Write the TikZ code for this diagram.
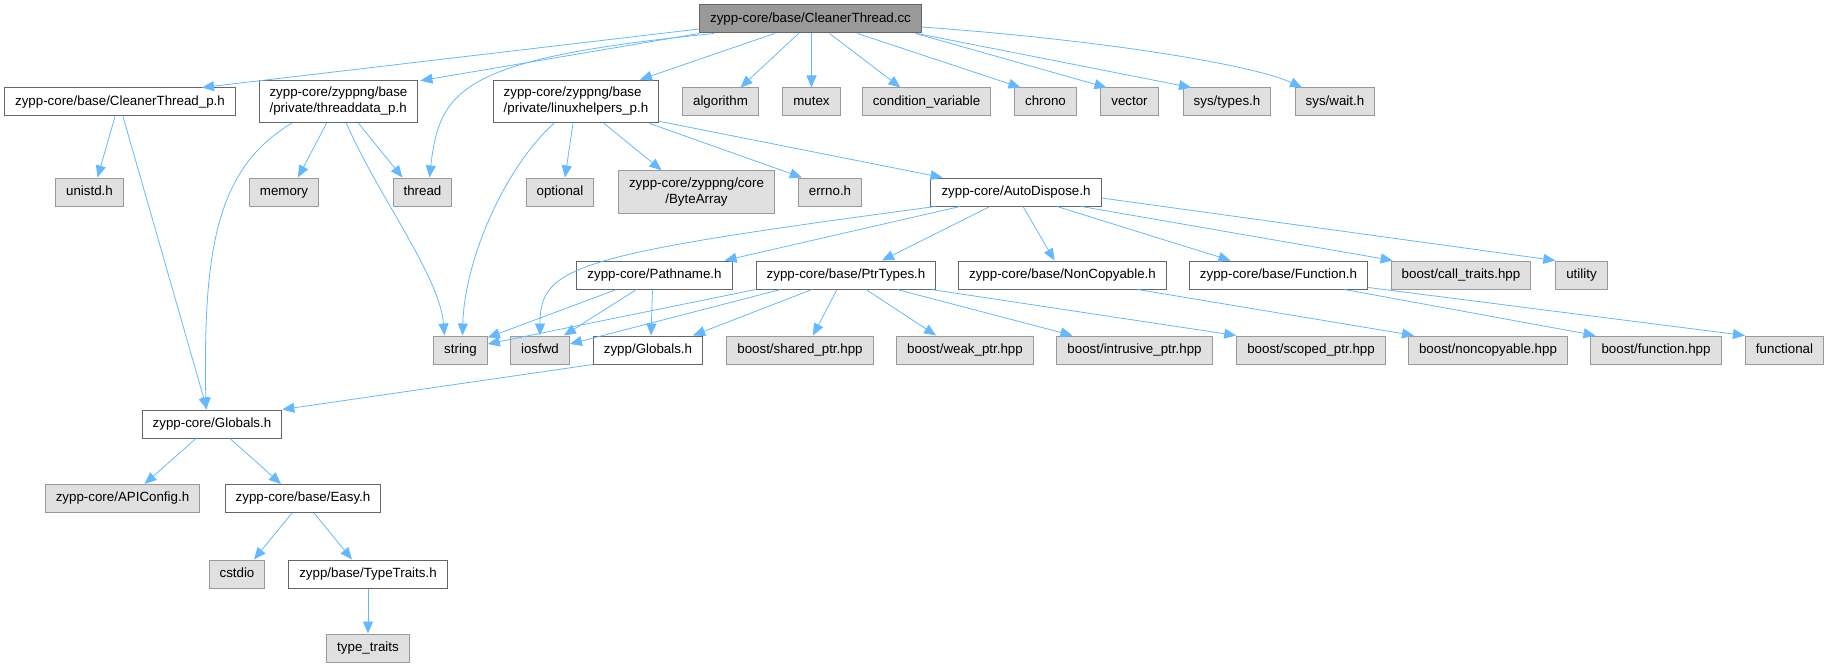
\documentclass[tikz,border=0pt]{standalone}
\usepackage{fontspec}
\setmainfont{Liberation Sans}
\usetikzlibrary{arrows.meta,calc}
\definecolor{edgeblue}{HTML}{63B8FF}
\definecolor{boxline}{HTML}{666666}
\definecolor{sysline}{HTML}{999999}
\definecolor{sysfill}{HTML}{E0E0E0}
\definecolor{rootfill}{HTML}{999999}
\tikzset{
  file/.style={draw=boxline, fill=white, line width=0.75pt, inner xsep=7.9pt, inner ysep=0pt,
    minimum height=21pt, text height=7.2pt, text depth=2.5pt, font=\fontsize{10}{12}\selectfont, text=black},
  sysfile/.style={file, draw=sysline, fill=sysfill},
  mainfile/.style={file, fill=rootfill},
  twoline/.style={minimum height=32pt, text height=, text depth=},
  dep/.style={draw=edgeblue, line width=0.6pt, -{Triangle[length=9pt,width=7.5pt]}},
}
\begin{document}
\begin{tikzpicture}[x=0.75pt,y=-0.75pt]
  \useasboundingbox (0,0) rectangle (1828,667);

  \node[mainfile] (cleanerthread) at (810.5,19) {zypp-core/base/CleanerThread.cc};

  \node[file] (cleanerp) at (120,102) {zypp-core/base/CleanerThread\_p.h};
  \node[file, twoline, align=left] (threaddata) at (338.5,101.5) {zypp-core/zyppng/base\\/private/threaddata\_p.h};
  \node[file, twoline, align=left] (linuxhelpers) at (576,101.5) {zypp-core/zyppng/base\\/private/linuxhelpers\_p.h};
  \node[sysfile] (algorithm) at (720.5,102) {algorithm};
  \node[sysfile] (mutex) at (811.5,102) {mutex};
  \node[sysfile] (condvar) at (926.5,102) {condition\_variable};
  \node[sysfile] (chrono) at (1045.5,102) {chrono};
  \node[sysfile] (vector) at (1129.5,102) {vector};
  \node[sysfile] (systypes) at (1227,102) {sys/types.h};
  \node[sysfile] (syswait) at (1335,102) {sys/wait.h};

  \node[sysfile] (unistd) at (89.5,192) {unistd.h};
  \node[sysfile] (memory) at (284,192) {memory};
  \node[sysfile] (thread) at (422.5,192) {thread};
  \node[sysfile] (optional) at (560,192) {optional};
  \node[sysfile, twoline, align=center] (bytearray) at (696.5,192) {zypp-core/zyppng/core\\/ByteArray};
  \node[sysfile] (errno) at (830,192) {errno.h};
  \node[file] (autodispose) at (1016,192) {zypp-core/AutoDispose.h};

  \node[file] (pathname) at (654.5,275) {zypp-core/Pathname.h};
  \node[file] (ptrtypes) at (846,275) {zypp-core/base/PtrTypes.h};
  \node[file] (noncopyable) at (1062.5,275) {zypp-core/base/NonCopyable.h};
  \node[file] (function) at (1278.5,275) {zypp-core/base/Function.h};
  \node[sysfile] (calltraits) at (1461,275) {boost/call\_traits.hpp};
  \node[sysfile] (utility) at (1581.5,275) {utility};

  \node[sysfile] (string) at (460.5,350) {string};
  \node[sysfile] (iosfwd) at (540,350) {iosfwd};
  \node[file] (zyppglobals) at (648,350) {zypp/Globals.h};
  \node[sysfile] (sharedptr) at (800,350) {boost/shared\_ptr.hpp};
  \node[sysfile] (weakptr) at (965,350) {boost/weak\_ptr.hpp};
  \node[sysfile] (intrusiveptr) at (1134.5,350) {boost/intrusive\_ptr.hpp};
  \node[sysfile] (scopedptr) at (1311,350) {boost/scoped\_ptr.hpp};
  \node[sysfile] (boostnoncopyable) at (1488,350) {boost/noncopyable.hpp};
  \node[sysfile] (boostfunction) at (1656,350) {boost/function.hpp};
  \node[sysfile] (functional) at (1784.5,350) {functional};

  \node[file] (globals) at (212,424) {zypp-core/Globals.h};
  \node[sysfile] (apiconfig) at (122.5,498.5) {zypp-core/APIConfig.h};
  \node[file] (easy) at (303,498.5) {zypp-core/base/Easy.h};
  \node[sysfile] (cstdio) at (237,574) {cstdio};
  \node[file] (typetraits) at (368,574) {zypp/base/TypeTraits.h};
  \node[sysfile] (stdtypetraits) at (368,648) {type\_traits};

  \draw[dep] ($(cleanerthread.west)+(0,10)$) -- ($(cleanerp.north)+(82,0)$);
  \draw[dep] (cleanerthread.south west) -- ($(threaddata.north east)+(2,1)$);
  \draw[dep] ($(cleanerthread.south west)+(15,0)$) .. controls +(-250,25) and +(10,-90) .. ($(thread.north)+(7,0)$);
  \draw[dep] ($(cleanerthread.south)+(-36,0)$) -- ($(linuxhelpers.north)+(64,0)$);
  \draw[dep] ($(cleanerthread.south)+(-12,0)$) -- ($(algorithm.north)+(20,0)$);
  \draw[dep] ($(cleanerthread.south)+(1,0)$) -- (mutex.north);
  \draw[dep] ($(cleanerthread.south)+(19,0)$) -- ($(condvar.north)+(-26,0)$);
  \draw[dep] ($(cleanerthread.south)+(47,0)$) -- ($(chrono.north)+(-25,0)$);
  \draw[dep] ($(cleanerthread.south)+(105,0)$) -- ($(vector.north)+(-23,0)$);
  \draw[dep] ($(cleanerthread.south east)+(-5,0)$) -- ($(systypes.north)+(-36,0)$);
  \draw[dep] ($(cleanerthread.east)+(0,8)$) .. controls +(180,13) and +(-50,-23) .. ($(syswait.north)+(-33,0)$);

  \draw[dep] ($(cleanerp.south)+(-5,0)$) -- ($(unistd.north)+(8,0)$);
  \draw[dep] ($(cleanerp.south)+(3,0)$) -- ($(globals.north)+(-5,0)$);

  \draw[dep] ($(threaddata.south)+(-12,0)$) -- ($(memory.north)+(14,0)$);
  \draw[dep] ($(threaddata.south)+(20,0)$) -- ($(thread.north)+(-20,0)$);
  \draw[dep] ($(threaddata.south)+(8,0)$) .. controls +(30,70) and +(-5,-60) .. ($(string.north)+(-16,0)$);
  \draw[dep] ($(threaddata.south)+(-47,0)$) .. controls +(-75,45) and +(-3,-160) .. ($(globals.north)+(-6,0)$);

  \draw[dep] ($(linuxhelpers.south)+(-22,0)$) .. controls +(-50,45) and +(2,-75) .. ($(string.north)+(2,0)$);
  \draw[dep] ($(linuxhelpers.south)+(-3,0)$) -- ($(optional.north)+(5,0)$);
  \draw[dep] ($(linuxhelpers.south)+(28,0)$) -- ($(bytearray.north)+(-35,0)$);
  \draw[dep] ($(linuxhelpers.south east)+(-10,0)$) -- ($(errno.north west)+(4,0)$);
  \draw[dep] ($(linuxhelpers.south east)+(0,-2)$) -- ($(autodispose.north west)+(12,0)$);

  \draw[dep] ($(autodispose.south)+(-56,0)$) -- ($(pathname.north east)+(-8,0)$);
  \draw[dep] ($(autodispose.south west)+(5,0)$) .. controls +(-360,48) and +(0,-70) .. (iosfwd.north);
  \draw[dep] ($(autodispose.south)+(-26,0)$) -- ($(ptrtypes.north)+(36,0)$);
  \draw[dep] ($(autodispose.south)+(7,0)$) -- ($(noncopyable.north)+(-8,0)$);
  \draw[dep] ($(autodispose.south)+(41,0)$) -- ($(function.north)+(-48,0)$);
  \draw[dep] ($(autodispose.south east)+(-20,0)$) -- ($(calltraits.north west)+(2,0)$);
  \draw[dep] ($(autodispose.east)+(0,6)$) -- (utility.north west);

  \draw[dep] (ptrtypes.south west) -- ($(string.east)+(0,-6)$);
  \draw[dep] ($(ptrtypes.south west)+(25,0)$) -- ($(iosfwd.east)+(0,-6)$);
  \draw[dep] ($(ptrtypes.south)+(-34,0)$) -- ($(zyppglobals.north east)+(-10,0)$);
  \draw[dep] ($(ptrtypes.south)+(-9,0)$) -- ($(sharedptr.north)+(13,0)$);
  \draw[dep] ($(ptrtypes.south)+(20,0)$) -- ($(weakptr.north)+(-29,0)$);
  \draw[dep] ($(ptrtypes.south)+(51,0)$) -- ($(intrusiveptr.north)+(-62,0)$);
  \draw[dep] ($(ptrtypes.south east)+(-5,0)$) -- (scopedptr.north west);

  \draw[dep] ($(pathname.south)+(-38,0)$) -- ($(string.north east)+(0,2)$);
  \draw[dep] ($(pathname.south)+(-18,0)$) -- ($(iosfwd.north east)+(-6,0)$);
  \draw[dep] ($(pathname.south)+(-2,0)$) -- ($(zyppglobals.north)+(3,0)$);
  \draw[dep] (zyppglobals.south west) -- (globals.north east);

  \draw[dep] ($(noncopyable.south)+(75,0)$) -- ($(boostnoncopyable.north west)+(6,0)$);
  \draw[dep] ($(function.south)+(66,0)$) -- ($(boostfunction.north west)+(5,0)$);
  \draw[dep] ($(function.south east)+(0,-2)$) -- (functional.north west);

  \draw[dep] ($(globals.south)+(-16,0)$) -- ($(apiconfig.north)+(22,0)$);
  \draw[dep] ($(globals.south)+(18,0)$) -- ($(easy.north)+(-22,0)$);
  \draw[dep] ($(easy.south)+(-11,0)$) -- ($(cstdio.north)+(17,0)$);
  \draw[dep] ($(easy.south)+(11,0)$) -- ($(typetraits.north)+(-16,0)$);
  \draw[dep] (typetraits.south) -- (stdtypetraits.north);
\end{tikzpicture}
\end{document}
